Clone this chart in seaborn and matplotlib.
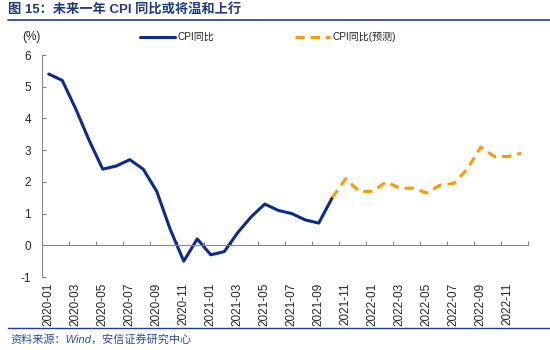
import matplotlib
matplotlib.use("Agg")
import matplotlib.pyplot as plt
import seaborn as sns
import numpy as np
import pandas as pd
from matplotlib.ticker import FixedLocator

months = pd.date_range("2020-01", "2022-12", freq="MS").strftime("%Y-%m").tolist()
actual = [5.4, 5.2, 4.3, 3.3, 2.4, 2.5, 2.7, 2.4, 1.7, 0.5, -0.5, 0.2,
          -0.3, -0.2, 0.4, 0.9, 1.3, 1.1, 1.0, 0.8, 0.7, 1.5]
forecast = [1.5, 2.1, 1.7, 1.7, 2.0, 1.8, 1.8, 1.65, 1.9, 1.95, 2.4, 3.1, 2.8, 2.8, 2.9]
forecast_start = len(actual) - 1

sns.set_theme(style="white")
plt.rcParams['font.family'] = ['Liberation Sans', 'Noto Sans CJK SC', 'DejaVu Sans']

navy = "#0D2A8C"
orange = "#FF9900"

fig = plt.figure(figsize=(5.5, 3.5), dpi=100)
ax = fig.add_axes([42/550, (350-277)/350, (528-42)/550, (277-55)/350])

x_act = np.arange(len(actual)) + 0.5
x_fc = np.arange(forecast_start, forecast_start + len(forecast)) + 0.5
sns.lineplot(x=x_act, y=actual, ax=ax, color=navy, linewidth=2.2, label="CPI同比")
sns.lineplot(x=x_fc, y=forecast, ax=ax, color=orange, linewidth=2.2, linestyle=(0, (3, 2)),
             label="CPI同比(预测)")

ax.set_xlim(0, len(months))
ax.set_ylim(-1, 6)
ax.set_yticks(range(-1, 7))
ax.set_yticklabels([str(v) for v in range(-1, 7)], fontsize=8.5)

for s in ["top", "right"]:
    ax.spines[s].set_visible(False)
ax.spines["left"].set_color("#888888")
ax.spines["left"].set_linewidth(0.8)
ax.spines["bottom"].set_position(("data", 0))
ax.spines["bottom"].set_color("#888888")
ax.spines["bottom"].set_linewidth(0.8)

ax.set_xticks(np.arange(0, len(months), 2) + 0.5)
ax.set_xticklabels(months[::2], rotation=90, fontsize=8.5)
ax.xaxis.set_minor_locator(FixedLocator(np.arange(2, len(months) + 1, 2)))
ax.tick_params(axis="x", which="major", length=0, pad=27)
ax.tick_params(axis="x", which="minor", direction="in", length=3, color="#888888", width=0.8, bottom=True)
ax.tick_params(axis="y", direction="in", length=3, color="#888888", width=0.8, left=True, pad=8)
ax.grid(False)

leg = ax.legend(loc="center", bbox_to_anchor=(268/550, 1 - 37/350), bbox_transform=fig.transFigure,
                ncol=2, frameon=False, fontsize=7.2, columnspacing=8, handlelength=3.5, handletextpad=0.3)

fig.text(22/550, 1 - 37/350, "(%)", fontsize=8.5, va="center", ha="left")

fig.text(8/550, 1 - 10/350, "图 15：未来一年 CPI 同比或将温和上行", fontsize=9.5, fontweight="bold",
         color="#1F3B7F", va="center", ha="left")
fig.add_artist(plt.Line2D([8/550, 1.0], [1 - 20/350, 1 - 20/350], color="#1F3B9F", linewidth=1.2,
                          transform=fig.transFigure))
fig.add_artist(plt.Line2D([8/550, 1.0], [1 - 328/350, 1 - 328/350], color="#1F3B9F", linewidth=1.0,
                          transform=fig.transFigure))
fig.text(10/550, 1 - 339/350, "资料来源：Wind，安信证券研究中心", fontsize=8, style="italic",
         color="#2A4EA8", va="center", ha="left")

fig.savefig("out.png", dpi=100, facecolor="white")
